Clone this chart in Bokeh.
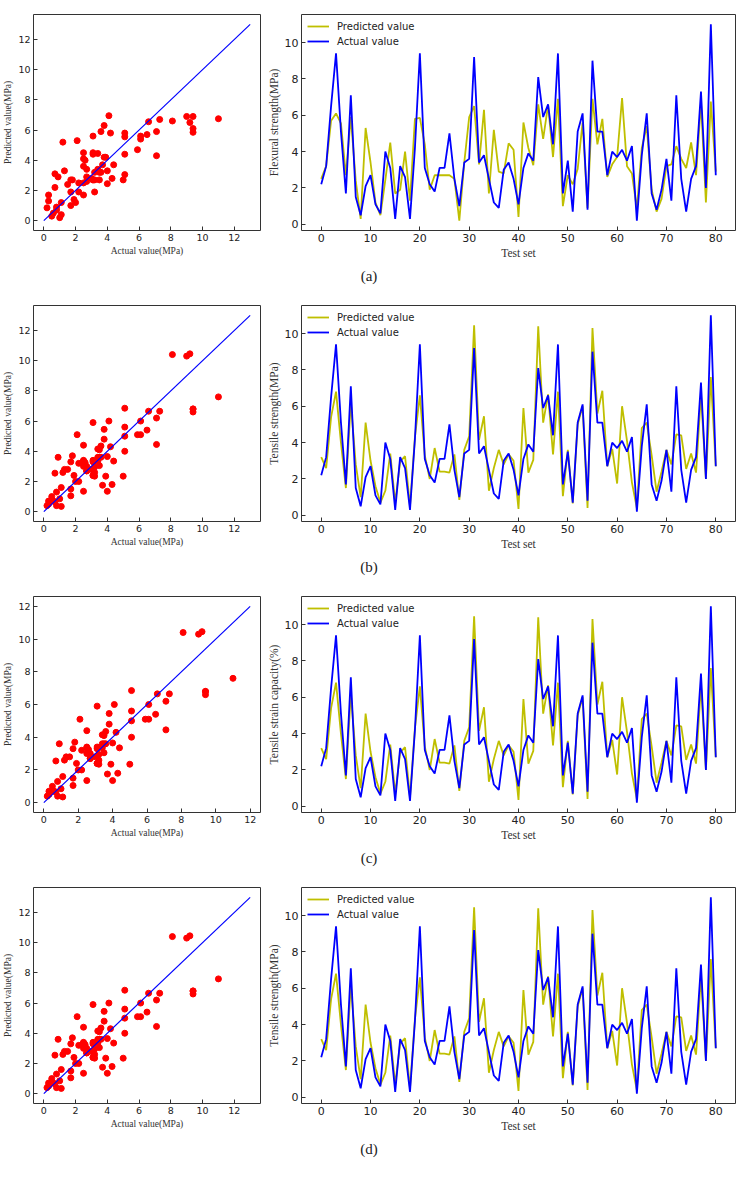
import numpy as np
from bokeh.plotting import figure
from bokeh.layouts import column, row
from bokeh.models import Div, Range1d, FixedTicker
from bokeh.embed import file_html
from bokeh.resources import INLINE

# test-set index and measured values (same for all four panels)
test_set = list(range(81))
actual = [2.2, 3.2, 6.5, 9.4, 5.1, 1.7, 7.1, 1.5, 0.5, 2.1,
          2.7, 1.1, 0.6, 4.0, 3.1, 0.3, 3.2, 2.6, 0.3, 4.2,
          9.4, 3.1, 2.2, 1.8, 3.1, 3.1, 5.0, 2.5, 1.0, 3.4,
          3.6, 9.2, 3.4, 3.8, 2.5, 1.2, 0.9, 3.0, 3.4, 2.5,
          1.1, 3.1, 3.9, 3.5, 8.1, 5.9, 6.6, 4.4, 9.4, 1.7,
          3.5, 0.7, 5.1, 6.1, 0.8, 9.0, 5.1, 5.1, 2.7, 4.0,
          3.7, 4.1, 3.5, 4.3, 0.2, 3.8, 6.1, 1.7, 0.8, 1.9,
          3.6, 1.3, 7.1, 2.5, 0.7, 2.5, 3.2, 7.3, 2.0, 11.0,
          2.7]

# predictions, panel (a)
pred_flex = [2.5, 3.2, 5.7, 6.1, 5.55, 2.7, 5.9, 2.4, 0.3, 5.3,
             3.4, 1.2, 0.5, 2.45, 4.5, 1.7, 1.9, 4.0, 1.3, 5.8,
             5.85, 4.4, 1.9, 2.7, 2.7, 2.7, 2.7, 2.5, 0.2, 3.4,
             5.9, 6.5, 3.3, 6.3, 1.7, 5.2, 2.9, 2.8, 4.45, 4.1,
             0.4, 5.6, 4.2, 3.25, 6.6, 4.7, 6.55, 3.7, 6.9, 1.0,
             2.7, 2.2, 3.05, 5.6, 0.9, 6.9, 4.4, 5.8, 2.6, 3.3,
             3.7, 6.95, 3.2, 2.8, 0.85, 4.2, 5.4, 1.9, 0.7, 1.4,
             3.2, 3.3, 4.3, 3.6, 3.1, 4.5, 2.7, 6.7, 1.2, 6.75,
             2.9]

# predictions, panels (b), (c), (d)
pred_tens = [3.2, 2.6, 5.4, 6.8, 4.0, 1.5, 6.2, 2.8, 1.0, 5.1,
             3.0, 1.6, 0.7, 1.35, 3.4, 0.7, 2.95, 3.25, 0.5, 4.3,
             6.6, 3.3, 2.0, 3.7, 2.4, 2.4, 2.35, 3.35, 0.85, 3.6,
             4.35, 10.45, 4.15, 5.45, 1.35, 2.6, 3.6, 2.8, 3.35, 3.0,
             0.35, 5.9, 2.35, 3.05, 10.4, 5.1, 6.65, 3.35, 6.8, 1.05,
             3.6, 0.65, 5.0, 6.0, 0.4, 10.3, 5.6, 6.85, 2.7, 3.65,
             1.75, 6.0, 4.1, 1.8, 0.4, 4.8, 5.1, 3.3, 1.3, 2.4,
             3.6, 2.8, 4.45, 4.4, 2.55, 3.4, 2.35, 6.65, 2.0, 7.6,
             2.7]

panel_tags = ["(a)", "(b)", "(c)", "(d)"]
line_ylabels = ["Flexural strength(MPa)", "Tensile strength(MPa)",
                "Tensile strain capacity(%)", "Tensile strength(MPa)"]
panel_preds = [pred_flex, pred_tens, pred_tens, pred_tens]
diag_max = [13, 13, 12, 13]

scatter_ticks = [0, 2, 4, 6, 8, 10, 12]
set_ticks = [0, 10, 20, 30, 40, 50, 60, 70, 80]
value_ticks = [0, 2, 4, 6, 8, 10]

INK = "#333333"


def style(p, tick_size, label_size):
    p.grid.visible = False
    p.outline_line_color = INK
    p.outline_line_width = 1
    p.background_fill_color = "white"
    p.border_fill_color = "white"
    for ax in p.axis:
        ax.axis_line_color = None
        ax.major_tick_in = 4
        ax.major_tick_out = 0
        ax.major_tick_line_color = INK
        ax.minor_tick_line_color = None
        ax.major_label_text_font = "DejaVu Sans"
        ax.major_label_text_font_size = tick_size
        ax.major_label_text_color = "#222222"
        ax.major_label_standoff = 3
        ax.axis_label_text_font = "Liberation Serif"
        ax.axis_label_text_font_style = "normal"
        ax.axis_label_text_font_size = label_size
        ax.axis_label_text_color = INK
        ax.axis_label_standoff = 2


def scatter_panel(pred, m):
    pad = 0.05 * m
    p = figure(width=264, height=266, output_backend="svg", toolbar_location=None,
               x_range=Range1d(-pad, m + pad), y_range=Range1d(-pad, m + pad),
               min_border_left=24, min_border_right=4,
               min_border_top=2, min_border_bottom=29,
               x_axis_label="Actual value(MPa)", y_axis_label="Predicted value(MPa)")
    p.scatter(actual, pred, size=6, color="red", line_color="red")
    p.line([0, m], [0, m], color="blue", line_width=1.2)
    p.xaxis.ticker = FixedTicker(ticks=scatter_ticks)
    p.yaxis.ticker = FixedTicker(ticks=scatter_ticks)
    style(p, "9.5px", "9.5px")
    return p


def line_panel(pred, ylabel):
    lo = min(min(actual), min(pred))
    hi = max(max(actual), max(pred))
    pad = 0.05 * (hi - lo)
    p = figure(width=474, height=266, output_backend="svg", toolbar_location=None,
               x_range=Range1d(-4, 84), y_range=Range1d(lo - pad, hi + pad),
               min_border_left=33, min_border_right=3,
               min_border_top=14, min_border_bottom=36,
               x_axis_label="Test set", y_axis_label=ylabel)
    p.line(test_set, pred, color="#bfbf00", line_width=1.8, legend_label="Predicted value")
    p.line(test_set, actual, color="#0000ff", line_width=1.8, legend_label="Actual value")
    p.xaxis.ticker = FixedTicker(ticks=set_ticks)
    p.yaxis.ticker = FixedTicker(ticks=value_ticks)
    style(p, "11px", "11.5px")
    lg = p.legend[0]
    lg.location = "top_left"
    lg.border_line_color = None
    lg.background_fill_alpha = 0
    lg.label_text_font = "DejaVu Sans"
    lg.label_text_font_size = "10px"
    lg.label_text_color = "#222222"
    lg.glyph_width = 22
    lg.glyph_height = 12
    lg.label_height = 12
    lg.spacing = 3
    lg.padding = 3
    lg.margin = 6
    lg.label_standoff = 8
    return p


blocks = []
for tag, ylabel, pred, m in zip(panel_tags, line_ylabels, panel_preds, diag_max):
    blocks.append(row(scatter_panel(pred, m), line_panel(pred, ylabel)))
    blocks.append(Div(text='<div style="width:738px;text-align:center;'
                           'font-family:\'Liberation Serif\';font-size:15px;'
                           'line-height:20px;color:#222">' + tag + '</div>',
                      width=738, height=25, margin=0))

p = column(*blocks)
open("out.html", "w").write(file_html(p, INLINE))
